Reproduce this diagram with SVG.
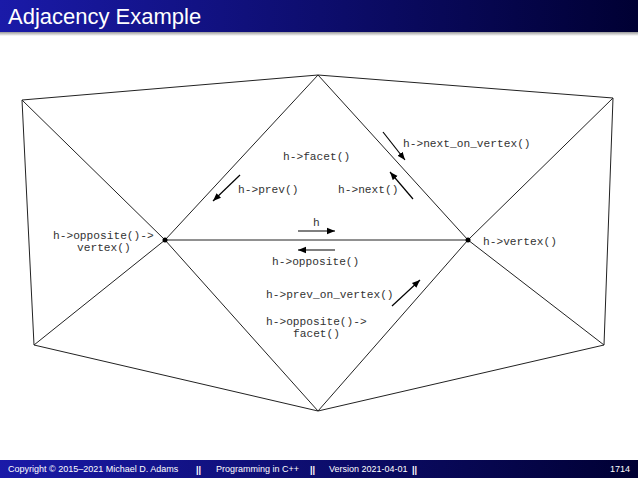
<svg xmlns="http://www.w3.org/2000/svg" width="638" height="478" viewBox="0 0 638 478">
<defs>
<linearGradient id="hg" x1="0" x2="1" y1="0" y2="0"><stop offset="0" stop-color="#1a1aa8"/><stop offset="1" stop-color="#000033"/></linearGradient>
<linearGradient id="sh" x1="0" x2="0" y1="0" y2="1"><stop offset="0" stop-color="#999"/><stop offset="1" stop-color="#fff"/></linearGradient>
<marker id="ah" viewBox="0 0 10 10" refX="10" refY="5" markerWidth="8" markerHeight="8" orient="auto" markerUnits="userSpaceOnUse"><path d="M0,1 L10,5 L0,9 Z" fill="#000"/></marker>
<style>
.e{stroke:#222;stroke-width:1;fill:none}
.a{stroke:#000;stroke-width:1.2;fill:none;marker-end:url(#ah)}
.t{font-family:"Liberation Mono",monospace;font-size:11.2px;fill:#333}
.f{font-family:"Liberation Sans",Arial,sans-serif;font-size:9px;fill:#fff}
</style>
</defs>
<rect x="0" y="0" width="638" height="32" fill="url(#hg)"/>
<rect x="0" y="32" width="638" height="4" fill="url(#sh)"/>
<text x="8" y="24" font-family="Liberation Sans,Arial,sans-serif" font-size="22" fill="#fff">Adjacency Example</text>
<g id="connectors">
<path class="e" d="M22,100 L318,75 L613,98 L604,345 L318,411 L34,345 Z"/>
<path class="e" d="M165,240 L468,240 M318,75 L165,240 M318,75 L468,240 M165,240 L22,100 M165,240 L34,345 M165,240 L318,411 M468,240 L613,98 M468,240 L604,345 M468,240 L318,411"/>
<line class="a" x1="383" y1="132" x2="405" y2="160"/>
<line class="a" x1="413" y1="199" x2="390" y2="172"/>
<line class="a" x1="240" y1="175" x2="213" y2="201"/>
<line class="a" x1="298" y1="231" x2="335" y2="231"/>
<line class="a" x1="335" y1="250" x2="298" y2="250"/>
<line class="a" x1="392" y1="306" x2="420" y2="280"/>
</g>
<g id="v1"><circle cx="165" cy="240" r="2.5" fill="#000"/></g>
<g id="v2"><circle cx="468" cy="240" r="2.5" fill="#000"/></g>
<g id="labels">
<text class="t" x="283" y="160">h-&gt;facet()</text>
<text class="t" x="403" y="147">h-&gt;next_on_vertex()</text>
<text class="t" x="238" y="193">h-&gt;prev()</text>
<text class="t" x="338" y="193">h-&gt;next()</text>
<text class="t" x="313" y="226">h</text>
<text class="t" x="272" y="265">h-&gt;opposite()</text>
<text class="t" x="483" y="245">h-&gt;vertex()</text>
<text class="t" x="53" y="239">h-&gt;opposite()-&gt;</text>
<text class="t" x="77" y="251">vertex()</text>
<text class="t" x="266" y="298">h-&gt;prev_on_vertex()</text>
<text class="t" x="266" y="325">h-&gt;opposite()-&gt;</text>
<text class="t" x="293" y="337">facet()</text>
</g>
<g id="footer">
<rect x="0" y="460" width="638" height="18" fill="url(#hg)"/>
<text class="f" x="8" y="472">Copyright © 2015–2021 Michael D. Adams</text>
<text class="f" x="196" y="473" font-weight="bold" font-size="12">||</text>
<text class="f" x="216" y="472">Programming in C++</text>
<text class="f" x="310" y="473" font-weight="bold" font-size="12">||</text>
<text class="f" x="329" y="472">Version 2021-04-01</text>
<text class="f" x="412" y="473" font-weight="bold" font-size="12">||</text>
<text class="f" x="610" y="472">1714</text>
</g>
</svg>
